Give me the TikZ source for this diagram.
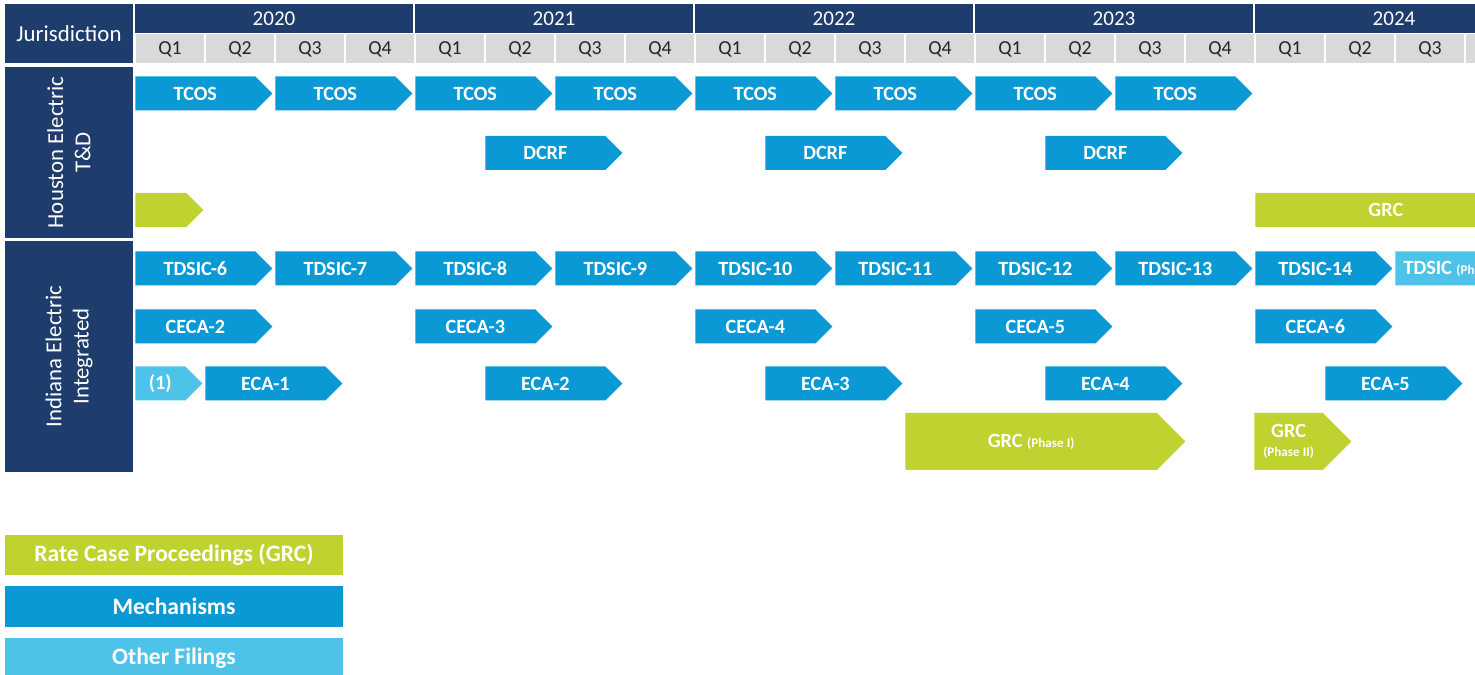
\documentclass[tikz,border=0pt]{standalone}
\usepackage{fontspec}
\setmainfont{Carlito}
\usetikzlibrary{shapes.symbols}
\definecolor{navy}{HTML}{1F3D6C}
\definecolor{mech}{HTML}{0B99D5}
\definecolor{other}{HTML}{4EC3E9}
\definecolor{grc}{HTML}{BFD22F}
\definecolor{qgray}{HTML}{D9D9D9}
\definecolor{qtext}{HTML}{262626}
\def\px{0.02cm}
\tikzset{chev/.style={signal,signal to=east,signal pointer angle=90,inner sep=0pt,anchor=west,
    minimum height=34*\px,text=white,font=\fontsize{11.5}{13}\selectfont\bfseries},
  mechchev/.style={chev,fill=mech},
  otherchev/.style={chev,fill=other},
  grcchev/.style={chev,fill=grc},
  navybox/.style={fill=navy,text=white,inner sep=0pt,align=center,font=\fontsize{13}{15.5}\selectfont},
  yearbox/.style={fill=navy,text=white,inner sep=0pt,minimum width=278*\px,minimum height=29*\px,font=\fontsize{12}{14}\selectfont},
  qbox/.style={fill=qgray,text=qtext,inner sep=0pt,minimum width=68*\px,minimum height=29*\px,font=\fontsize{11.3}{13}\selectfont},
  legendbox/.style={inner sep=0pt,minimum width=338*\px,minimum height=40*\px,text=white,font=\fontsize{13.4}{16}\selectfont\bfseries}}

\begin{document}
\begin{tikzpicture}[x=\px,y=-\px]
\useasboundingbox (0,0) rectangle (1475,675);
\clip (0,0) rectangle (1475,675);
% header
\node[navybox,minimum width=128*\px,minimum height=59*\px] (juris) at (69,34) {Jurisdiction};
\node[yearbox] (y2020) at (274,19) {2020};
\node[yearbox] (y2021) at (554,19) {2021};
\node[yearbox] (y2022) at (834,19) {2022};
\node[yearbox] (y2023) at (1114,19) {2023};
\node[yearbox] (y2024) at (1394,19) {2024};
\foreach \i in {0,...,18}
  {\pgfmathtruncatemacro\qn{mod(\i,4)+1}
   \node[qbox] (q\i) at (170+70*\i,49) {Q\qn};}
\node[qbox] (q19) at (1500,49) {};
% row labels
\node[navybox,rotate=90,minimum width=171*\px,minimum height=128*\px] (houston) at (69,152.5) {Houston Electric\\T\&D};
\node[navybox,rotate=90,minimum width=231*\px,minimum height=128*\px] (indiana) at (69,356.5) {Indiana Electric\\Integrated};
% Houston Electric
\node[mechchev,minimum width=137*\px] (tcosA) at (135,93.5) {TCOS};
\node[mechchev,minimum width=137*\px] (tcosB) at (275,93.5) {TCOS};
\node[mechchev,minimum width=137*\px] (tcosC) at (415,93.5) {TCOS};
\node[mechchev,minimum width=137*\px] (tcosD) at (555,93.5) {TCOS};
\node[mechchev,minimum width=137*\px] (tcosE) at (695,93.5) {TCOS};
\node[mechchev,minimum width=137*\px] (tcosF) at (835,93.5) {TCOS};
\node[mechchev,minimum width=137*\px] (tcosG) at (975,93.5) {TCOS};
\node[mechchev,minimum width=137*\px] (tcosH) at (1115,93.5) {TCOS};
\node[mechchev,minimum width=137*\px] (dcrfA) at (485,153) {DCRF};
\node[mechchev,minimum width=137*\px] (dcrfB) at (765,153) {DCRF};
\node[mechchev,minimum width=137*\px] (dcrfC) at (1045,153) {DCRF};
\node[grcchev,minimum width=68*\px] (hgrcA) at (135,210) {};
\node[grcchev,minimum width=278*\px] (hgrcB) at (1255,210) {GRC};
% Indiana Electric
\node[mechchev,minimum width=137*\px] (tdsic6) at (135,268.5) {TDSIC-6};
\node[mechchev,minimum width=137*\px] (tdsic7) at (275,268.5) {TDSIC-7};
\node[mechchev,minimum width=137*\px] (tdsic8) at (415,268.5) {TDSIC-8};
\node[mechchev,minimum width=137*\px] (tdsic9) at (555,268.5) {TDSIC-9};
\node[mechchev,minimum width=137*\px] (tdsic10) at (695,268.5) {TDSIC-10};
\node[mechchev,minimum width=137*\px] (tdsic11) at (835,268.5) {TDSIC-11};
\node[mechchev,minimum width=137*\px] (tdsic12) at (975,268.5) {TDSIC-12};
\node[mechchev,minimum width=137*\px] (tdsic13) at (1115,268.5) {TDSIC-13};
\node[mechchev,minimum width=137*\px] (tdsic14) at (1255,268.5) {TDSIC-14};
\node[otherchev,minimum width=137*\px] (tdsicP) at (1395,268.5) {TDSIC {\fontsize{7.5}{8}\selectfont (Phase II)}};
\node[mechchev,minimum width=137*\px] (ceca2) at (135,326.5) {CECA-2};
\node[mechchev,minimum width=137*\px] (ceca3) at (415,326.5) {CECA-3};
\node[mechchev,minimum width=137*\px] (ceca4) at (695,326.5) {CECA-4};
\node[mechchev,minimum width=137*\px] (ceca5) at (975,326.5) {CECA-5};
\node[mechchev,minimum width=137*\px] (ceca6) at (1255,326.5) {CECA-6};
\node[otherchev,minimum width=67*\px] (other1) at (135,383.5) {(1)};
\node[mechchev,minimum width=137*\px] (eca1) at (205,383.5) {ECA-1};
\node[mechchev,minimum width=137*\px] (eca2) at (485,383.5) {ECA-2};
\node[mechchev,minimum width=137*\px] (eca3) at (765,383.5) {ECA-3};
\node[mechchev,minimum width=137*\px] (eca4) at (1045,383.5) {ECA-4};
\node[mechchev,minimum width=137*\px] (eca5) at (1325,383.5) {ECA-5};
\node[grcchev,minimum width=280*\px,minimum height=57*\px] (grc1) at (905,441.5) {GRC {\fontsize{7.5}{8}\selectfont (Phase I)}};
\node[grcchev,minimum width=97*\px,minimum height=57*\px,align=center] (grc2) at (1254,441.5) {GRC\\[-2pt]{\fontsize{7.5}{8}\selectfont (Phase II)}};
% legend
\node[legendbox,fill=grc] (leggrc) at (174,555) {Rate Case Proceedings (GRC)};
\node[legendbox,fill=mech] (legmech) at (174,606.5) {Mechanisms};
\node[legendbox,fill=other] (legother) at (174,658) {Other Filings};
\end{tikzpicture}
\end{document}
